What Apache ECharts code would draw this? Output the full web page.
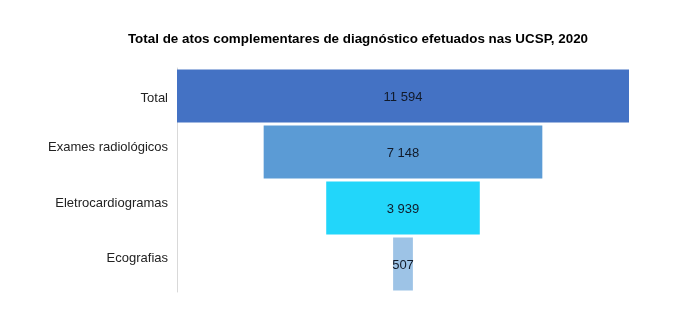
<!DOCTYPE html>
<html>
<head>
<meta charset="utf-8">
<script src="https://cdn.jsdelivr.net/npm/echarts@6/dist/echarts.min.js"></script>
<style>
  html, body { margin: 0; padding: 0; background: #ffffff; }
  #chart { width: 692px; height: 329px; }
</style>
</head>
<body>
<div id="chart"></div>
<script>
// Diagnostic acts performed at the UCSP in 2020
const categories = ['Total', 'Exames radiológicos', 'Eletrocardiogramas', 'Ecografias'];
const values = [11594, 7148, 3939, 507];
const barColors = ['#4472C4', '#5B9BD5', '#22D6FA', '#9DC3E6'];

// vertical nudge (px) of each category label; negative moves it up
const labelShift = [2, -5, -5, -6];

const maxValue = Math.max(...values);
// Transparent spacer that centres each bar around the middle of the axis
const offsets = values.map(v => (maxValue - v) / 2);

const fmt = v => String(v).replace(/\B(?=(\d{3})+(?!\d))/g, ' ');

const labelFont = { fontFamily: 'Liberation Sans', fontSize: 13, color: '#222222' };
const labelRich = {};
labelShift.forEach((s, i) => {
  labelRich['c' + i] = Object.assign({
    padding: s >= 0 ? [2 * s, 0, 0, 0] : [0, 0, -2 * s, 0]
  }, labelFont);
});

const chart = echarts.init(document.getElementById('chart'), null, { renderer: 'canvas' });
chart.setOption({
  animation: false,
  backgroundColor: '#ffffff',
  title: {
    text: 'Total de atos complementares de diagnóstico efetuados nas UCSP, 2020',
    left: 353,
    textAlign: 'center',
    top: 28,
    textStyle: { fontFamily: 'Liberation Sans', fontSize: 13.4, fontWeight: 'bold', color: '#000000' }
  },
  grid: { left: 177, right: 63, top: 68, bottom: 37 },
  xAxis: {
    type: 'value',
    min: 0,
    max: maxValue,
    show: false
  },
  yAxis: {
    type: 'category',
    data: categories,
    inverse: true,
    axisLine: { show: true, lineStyle: { color: '#d9d9d9', width: 1 } },
    axisTick: { show: false },
    axisLabel: Object.assign({
      margin: 9,
      formatter: (v, i) => '{c' + i + '|' + v + '}',
      rich: labelRich
    }, labelFont)
  },
  series: [
    {
      type: 'bar',
      stack: 'funnel',
      data: offsets,
      itemStyle: { color: 'transparent' },
      barCategoryGap: '5%',
      silent: true
    },
    {
      type: 'bar',
      stack: 'funnel',
      data: values.map((v, i) => ({ value: v, itemStyle: { color: barColors[i] } })),
      barCategoryGap: '5%',
      label: {
        show: true,
        position: 'inside',
        offset: [0, 1],
        formatter: p => fmt(p.value),
        fontFamily: 'Liberation Sans',
        fontSize: 13,
        color: '#111a2a'
      }
    }
  ]
});
</script>
</body>
</html>
